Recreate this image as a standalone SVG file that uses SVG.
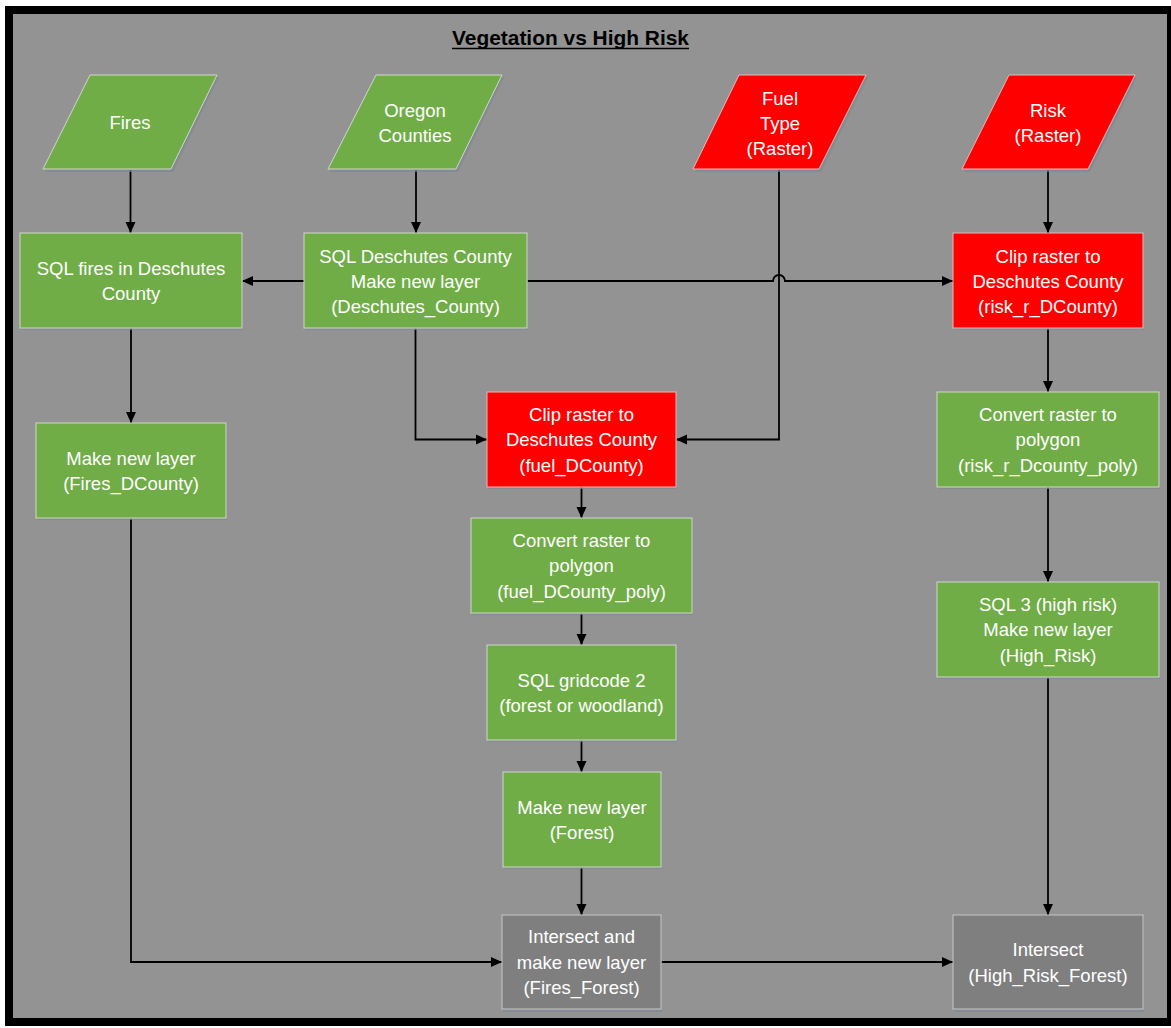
<svg xmlns="http://www.w3.org/2000/svg" width="1171" height="1028" viewBox="0 0 1171 1028">
<style>
.g{fill:#70AD47;stroke:#D0D7CC;stroke-width:1}
.r{fill:#FF0000;stroke:#E6B8B8;stroke-width:1}
.k{fill:#7F7F7F;stroke:#C8C8C8;stroke-width:1}
.sh{fill:#7F8792;opacity:0.7}
.t{font-family:"Liberation Sans",Arial,sans-serif;font-size:18.5px;fill:#FFFFFF;text-anchor:middle}
.c{fill:none;stroke:#000;stroke-width:1.8}
.title{font-family:"Liberation Sans",Arial,sans-serif;font-size:20.5px;font-weight:bold;fill:#000;text-anchor:middle}
</style>
<defs>
<marker id="ah" markerUnits="userSpaceOnUse" markerWidth="12" markerHeight="12" viewBox="0 0 12 12" refX="11" refY="6" orient="auto">
<path d="M0,1 L11,6 L0,11 Z" fill="#000"/>
</marker>
</defs>
<rect x="9" y="10" width="1162" height="1012" fill="#939393" stroke="#000" stroke-width="8"/>
<g id="title">
<text class="title" x="570.5" y="45" textLength="237" lengthAdjust="spacingAndGlyphs">Vegetation vs High Risk</text>
<line x1="452" y1="48.5" x2="689" y2="48.5" stroke="#000" stroke-width="1.5"/>
</g>
<g id="connectors">
<path class="c" d="M130.5,170 V233" marker-end="url(#ah)"/>
<path class="c" d="M416,170 V233" marker-end="url(#ah)"/>
<path class="c" d="M1048,170 V233" marker-end="url(#ah)"/>
<path class="c" d="M304,281 H242" marker-end="url(#ah)"/>
<path class="c" d="M527,281 H773 A6,6 0 0 1 785,281 H953" marker-end="url(#ah)"/>
<path class="c" d="M779,170 V439.5 H676" marker-end="url(#ah)"/>
<path class="c" d="M415.5,328 V439.5 H487" marker-end="url(#ah)"/>
<path class="c" d="M131,328 V423" marker-end="url(#ah)"/>
<path class="c" d="M1048,328 V392" marker-end="url(#ah)"/>
<path class="c" d="M581.5,487 V518" marker-end="url(#ah)"/>
<path class="c" d="M581.5,613 V645" marker-end="url(#ah)"/>
<path class="c" d="M581.5,740 V772" marker-end="url(#ah)"/>
<path class="c" d="M581.5,867 V915" marker-end="url(#ah)"/>
<path class="c" d="M131,518 V962 H502" marker-end="url(#ah)"/>
<path class="c" d="M661,962 H953" marker-end="url(#ah)"/>
<path class="c" d="M1048,487 V582" marker-end="url(#ah)"/>
<path class="c" d="M1048,677 V915" marker-end="url(#ah)"/>
</g>
<g id="fires">
<polygon class="sh" points="91,77 219,77 173,172 45,172"/>
<polygon class="g" points="90,75 217,75 171,169 43,169"/>
<text class="t" x="130" y="128.5">Fires</text>
</g>
<g id="oregon-counties">
<polygon class="sh" points="377,77 504,77 458,172 330,172"/>
<polygon class="g" points="376,75 502,75 456,169 328,169"/>
<text class="t" x="415" y="116.5">Oregon</text>
<text class="t" x="415" y="142">Counties</text>
</g>
<g id="fuel-type">
<polygon class="sh" points="740,77 868,77 821,172 695,172"/>
<polygon class="r" points="739,75 866,75 819,169 693,169"/>
<text class="t" x="780" y="104.5">Fuel</text>
<text class="t" x="780" y="130">Type</text>
<text class="t" x="780" y="155">(Raster)</text>
</g>
<g id="risk">
<polygon class="sh" points="1010,77 1137,77 1090,172 964,172"/>
<polygon class="r" points="1009,75 1135,75 1088,169 962,169"/>
<text class="t" x="1048" y="116.5">Risk</text>
<text class="t" x="1048" y="142">(Raster)</text>
</g>
<g id="sql-fires">
<rect class="sh" x="21" y="235" width="222" height="95"/>
<rect class="g" x="20" y="233" width="222" height="95"/>
<text class="t" x="131" y="274.5">SQL fires in Deschutes</text>
<text class="t" x="131" y="300">County</text>
</g>
<g id="sql-deschutes">
<rect class="sh" x="305" y="235" width="223" height="95"/>
<rect class="g" x="304" y="233" width="223" height="95"/>
<text class="t" x="415.5" y="262.5">SQL Deschutes County</text>
<text class="t" x="415.5" y="287.5">Make new layer</text>
<text class="t" x="415.5" y="313">(Deschutes_County)</text>
</g>
<g id="clip-risk">
<rect class="sh" x="954" y="235" width="190" height="95"/>
<rect class="r" x="953" y="233" width="190" height="95"/>
<text class="t" x="1048" y="262.5">Clip raster to</text>
<text class="t" x="1048" y="287.5">Deschutes County</text>
<text class="t" x="1048" y="313">(risk_r_DCounty)</text>
</g>
<g id="fires-dcounty">
<rect class="sh" x="37" y="425" width="190" height="95"/>
<rect class="g" x="36" y="423" width="190" height="95"/>
<text class="t" x="131" y="464.5">Make new layer</text>
<text class="t" x="131" y="490">(Fires_DCounty)</text>
</g>
<g id="clip-fuel">
<rect class="sh" x="488" y="394" width="189" height="95"/>
<rect class="r" x="487" y="392" width="189" height="95"/>
<text class="t" x="581.5" y="420.5">Clip raster to</text>
<text class="t" x="581.5" y="446">Deschutes County</text>
<text class="t" x="581.5" y="471.5">(fuel_DCounty)</text>
</g>
<g id="convert-risk">
<rect class="sh" x="938" y="394" width="222" height="95"/>
<rect class="g" x="937" y="392" width="222" height="95"/>
<text class="t" x="1048" y="420.5">Convert raster to</text>
<text class="t" x="1048" y="446">polygon</text>
<text class="t" x="1048" y="471.5">(risk_r_Dcounty_poly)</text>
</g>
<g id="convert-fuel">
<rect class="sh" x="472" y="520" width="221" height="95"/>
<rect class="g" x="471" y="518" width="221" height="95"/>
<text class="t" x="581.5" y="546.5">Convert raster to</text>
<text class="t" x="581.5" y="572">polygon</text>
<text class="t" x="581.5" y="597.5">(fuel_DCounty_poly)</text>
</g>
<g id="sql-gridcode">
<rect class="sh" x="488" y="647" width="189" height="95"/>
<rect class="g" x="487" y="645" width="189" height="95"/>
<text class="t" x="581.5" y="686.5">SQL gridcode 2</text>
<text class="t" x="581.5" y="712">(forest or woodland)</text>
</g>
<g id="sql-high-risk">
<rect class="sh" x="938" y="584" width="222" height="95"/>
<rect class="g" x="937" y="582" width="222" height="95"/>
<text class="t" x="1048" y="610.5">SQL 3 (high risk)</text>
<text class="t" x="1048" y="636">Make new layer</text>
<text class="t" x="1048" y="661.5">(High_Risk)</text>
</g>
<g id="forest">
<rect class="sh" x="504" y="774" width="158" height="95"/>
<rect class="g" x="503" y="772" width="158" height="95"/>
<text class="t" x="582" y="813.5">Make new layer</text>
<text class="t" x="582" y="839">(Forest)</text>
</g>
<g id="fires-forest">
<rect class="sh" x="503" y="917" width="159" height="95"/>
<rect class="k" x="502" y="915" width="159" height="94"/>
<text class="t" x="581.5" y="943">Intersect and</text>
<text class="t" x="581.5" y="968.5">make new layer</text>
<text class="t" x="581.5" y="994">(Fires_Forest)</text>
</g>
<g id="high-risk-forest">
<rect class="sh" x="954" y="917" width="190" height="95"/>
<rect class="k" x="953" y="915" width="190" height="94"/>
<text class="t" x="1048" y="956">Intersect</text>
<text class="t" x="1048" y="981.5">(High_Risk_Forest)</text>
</g>
</svg>
